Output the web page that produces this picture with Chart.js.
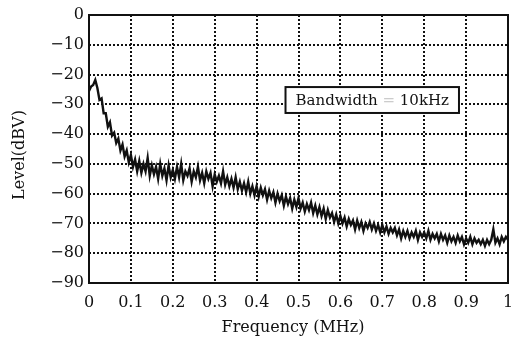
<!DOCTYPE html>
<html>
<head>
<meta charset="utf-8">
<script src="https://cdn.jsdelivr.net/npm/chart.js@4.4.1/dist/chart.umd.min.js"></script>
<style>
  html, body { margin: 0; padding: 0; background: #fff; }
  #wrap { width: 516px; height: 345px; }
</style>
</head>
<body>
<div id="wrap"><canvas id="c"></canvas></div>
<script>
// sample spacing of the trace, MHz
const freqStep = 0.005;

// level, dBV, one value per freqStep from 0 to 1 MHz
const levels = [
  -25.5, -24, -23.5, -21.8, -24.5, -28.5, -28, -33, -33, -37.5,
  -36, -40.5, -39.5, -43, -41.5, -45.5, -43.5, -47.5, -45.5, -49.5,
  -47, -51, -48.5, -52.5, -49, -53, -50, -52.5, -48, -54,
  -50.5, -53.5, -51, -55, -50, -54, -51.5, -55.5, -50.5, -54.5,
  -52, -55, -51, -54.5, -50, -55.5, -52.5, -54, -51.5, -56,
  -52.5, -54.5, -51, -55.5, -53, -56.5, -52.5, -55, -53, -57.5,
  -53.5, -56, -54, -56.5, -52.5, -57, -54.5, -57.5, -55, -58,
  -54.5, -58.5, -56, -59, -56.5, -59.5, -56, -60, -57.5, -60.5,
  -57.5, -61, -58, -60.5, -58.5, -62, -59, -61.5, -59.5, -63,
  -60, -62.5, -60.5, -64, -61, -63.5, -61.5, -65, -62, -64.5,
  -61.5, -65, -63, -66, -63.5, -65.5, -63, -66.5, -64, -67,
  -64.5, -67.5, -65, -68.5, -65.5, -68, -66.5, -69.5, -67, -70,
  -67.5, -70, -68, -71, -68.5, -70.5, -69, -72, -69, -71.5,
  -69.5, -72.5, -70, -71.5, -69.5, -72, -70, -72.5, -70.5, -73,
  -70.5, -73, -71, -73.5, -71.5, -73, -71.5, -74, -72, -75,
  -72.5, -74.5, -72.5, -75, -73, -74.5, -72.5, -75.5, -73, -74.5,
  -73, -75, -72.5, -75.5, -73.5, -75, -73.5, -76, -73.5, -75.5,
  -74, -76.5, -74, -76, -74.5, -76.5, -74, -76, -74.5, -77,
  -75, -76.5, -74.5, -77, -75, -76.5, -75.5, -77, -75.5, -77.5,
  -75.5, -77, -75.5, -72, -76.5, -75, -77, -74.5, -76, -74.5,
  -75.5
];

const legendText = ['Bandwidth', '=', '10kHz'];
const xTitle = 'Frequency (MHz)';
const yTitle = 'Level(dBV)';

const points = levels.map((v, i) => ({ x: +(i * freqStep).toFixed(3), y: v }));

const serif = '"DejaVu Serif", "Liberation Serif", serif';

const decorations = {
  id: 'decorations',
  afterDraw(chart) {
    const { ctx, chartArea: a, scales } = chart;
    ctx.save();
    // frame
    ctx.strokeStyle = '#111';
    ctx.lineWidth = 2;
    ctx.setLineDash([]);
    ctx.strokeRect(a.left, a.top, a.right - a.left, a.bottom - a.top);

    // bandwidth box
    const bx = scales.x.getPixelForValue(0.469);
    const bx2 = scales.x.getPixelForValue(0.883);
    const by = scales.y.getPixelForValue(-24.2);
    const by2 = scales.y.getPixelForValue(-32.9);
    ctx.fillStyle = '#fff';
    ctx.fillRect(bx, by, bx2 - bx, by2 - by);
    ctx.strokeRect(bx, by, bx2 - bx, by2 - by);
    ctx.font = '15px ' + serif;
    ctx.textBaseline = 'middle';
    ctx.textAlign = 'left';
    const gap = ctx.measureText(' ').width;
    const w = legendText.reduce((s, t) => s + ctx.measureText(t).width, 0) + 2 * gap;
    const ty = (by + by2) / 2 + 1;
    let tx = (bx + bx2) / 2 - w / 2;
    legendText.forEach((t, i) => {
      ctx.fillStyle = i === 1 ? '#ccc' : '#111';
      ctx.fillText(t, tx, ty);
      tx += ctx.measureText(t).width + gap;
    });

    // axis titles
    ctx.fillStyle = '#111';
    ctx.font = '16px ' + serif;
    ctx.textAlign = 'center';
    ctx.fillText(xTitle, 293, 328);
    ctx.translate(20, 155);
    ctx.rotate(-Math.PI / 2);
    ctx.fillText(yTitle, 0, 0);
    ctx.restore();
  }
};

new Chart(document.getElementById('c'), {
  type: 'line',
  data: {
    datasets: [{
      data: points,
      borderColor: '#111',
      borderWidth: 2.4,
      pointRadius: 0,
      tension: 0,
      fill: false
    }]
  },
  plugins: [decorations],
  options: {
    responsive: true,
    maintainAspectRatio: false,
    animation: false,
    events: [],
    layout: { padding: { top: 15, right: 8, left: 0, bottom: 0 } },
    plugins: { legend: { display: false }, tooltip: { enabled: false } },
    scales: {
      x: {
        type: 'linear',
        min: 0,
        max: 1,
        afterFit(s) { s.height = 62; s.paddingLeft = 0; s.paddingRight = 0; },
        border: { display: false, dash: [2, 2] },
        grid: {
          color: '#111',
          lineWidth: 2,
          drawTicks: false
        },
        ticks: {
          stepSize: 0.1,
          padding: 10,
          color: '#111',
          font: { family: serif, size: 16 },
          maxRotation: 0,
          callback: v => String(Number(v.toFixed(1)))
        }
      },
      y: {
        min: -90,
        max: 0,
        afterFit(s) { s.width = 89; s.paddingTop = 0; s.paddingBottom = 0; },
        border: { display: false, dash: [2, 2] },
        grid: {
          color: '#111',
          lineWidth: 2,
          drawTicks: false
        },
        ticks: {
          stepSize: 10,
          padding: 5,
          color: '#111',
          font: { family: serif, size: 16 },
          callback: v => v < 0 ? '\u2212' + Math.abs(v) : '0'
        }
      }
    }
  }
});
</script>
</body>
</html>
